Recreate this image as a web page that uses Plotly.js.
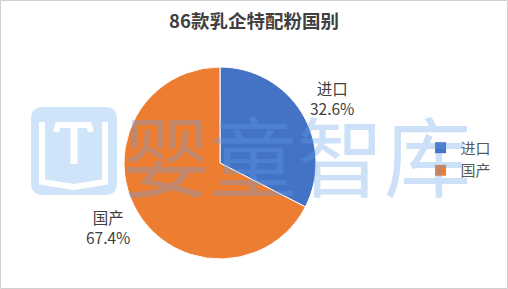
<!DOCTYPE html>
<html>
<head>
<meta charset="utf-8">
<script src="https://cdn.plot.ly/plotly-3.0.1.min.js"></script>
<style>html,body{margin:0;padding:0;background:#fff;}#chart{width:508px;height:289px;}</style>
</head>
<body>
<div id="chart"></div>
<script>
// Data
const chartTitle = '86款乳企特配粉国别';
const categories = ['进口', '国产'];
const counts = [28, 58];           // of 86 products
const sliceColors = ['#4472C4', '#ED7D31'];
const watermarkText = '婴童智库';

const W = 508, H = 289;
const FONT = '"Noto Sans CJK SC", "Microsoft YaHei", sans-serif';
const total = counts.reduce((a, b) => a + b, 0);
const pct = counts.map(v => (v / total * 100).toFixed(1) + '%');

function px(x) { return x / W; }
function py(y) { return 1 - y / H; }
function path(points) {
  return points.map((p, i) => (i ? 'L' : 'M') + px(p[0]).toFixed(5) + ',' + py(p[1]).toFixed(5)).join(' ');
}

const trace = {
  type: 'pie',
  labels: categories,
  values: counts,
  sort: false,
  direction: 'clockwise',
  rotation: 0,
  marker: { colors: sliceColors, line: { color: '#ffffff', width: 1 } },
  textinfo: 'none',
  hoverinfo: 'skip',
  domain: { x: [124 / W, 316 / W], y: [1 - 259 / H, 1 - 67 / H] }
};

// label positions (outside labels)
const labelPos = [[332, 98], [108, 227]];
const annotations = categories.map((c, i) => ({
  xref: 'paper', yref: 'paper',
  x: px(labelPos[i][0]), y: py(labelPos[i][1]),
  xanchor: 'center', yanchor: 'middle',
  text: c + '<br>' + pct[i],
  showarrow: false, align: 'center',
  font: { family: FONT, size: 15.5, color: '#404040' }
}));

// watermark text
annotations.push({
  xref: 'paper', yref: 'paper',
  x: px(297), y: py(153), xanchor: 'center', yanchor: 'middle',
  text: watermarkText, showarrow: false,
  font: { family: FONT, size: 87, color: 'rgba(96,160,232,0.32)' }
});

// watermark icon (rounded square + book)
const r = 12, x0 = 31, x1 = 117, y0 = 107, y1 = 195;
const rr = 'M' + px(x0 + r) + ',' + py(y0) +
  ' L' + px(x1 - r) + ',' + py(y0) +
  ' Q' + px(x1) + ',' + py(y0) + ' ' + px(x1) + ',' + py(y0 + r) +
  ' L' + px(x1) + ',' + py(y1 - r) +
  ' Q' + px(x1) + ',' + py(y1) + ' ' + px(x1 - r) + ',' + py(y1) +
  ' L' + px(x0 + r) + ',' + py(y1) +
  ' Q' + px(x0) + ',' + py(y1) + ' ' + px(x0) + ',' + py(y1 - r) +
  ' L' + px(x0) + ',' + py(y0 + r) +
  ' Q' + px(x0) + ',' + py(y0) + ' ' + px(x0 + r) + ',' + py(y0) + ' Z';

const shapes = [
  { type: 'path', xref: 'paper', yref: 'paper', path: rr, fillcolor: '#CFE4F9', line: { width: 0 }, layer: 'below' },
  { type: 'path', xref: 'paper', yref: 'paper', path: path([[42, 122], [42, 182], [74, 187], [105, 182], [105, 122]]), line: { color: '#ffffff', width: 6 }, layer: 'below' },
  { type: 'path', xref: 'paper', yref: 'paper', path: path([[56, 132], [58, 125], [89, 125], [91, 132]]), line: { color: '#ffffff', width: 6 }, layer: 'below' },
  { type: 'path', xref: 'paper', yref: 'paper', path: path([[74, 125], [74, 164]]), line: { color: '#ffffff', width: 7 }, layer: 'below' },
  // outer border
  { type: 'rect', xref: 'paper', yref: 'paper', x0: 0.5 / W, x1: 1 - 0.5 / W, y0: 0.5 / H, y1: 1 - 0.5 / H, line: { color: '#D0D0D0', width: 1 } }
];

const layout = {
  width: W, height: H,
  margin: { l: 0, r: 0, t: 0, b: 0 },
  paper_bgcolor: '#ffffff',
  title: {
    text: '<b>' + chartTitle + '</b>',
    x: 0.5, xanchor: 'center', y: 1 - 22 / H, yanchor: 'middle',
    font: { family: FONT, size: 18.5, color: '#404040' }
  },
  showlegend: true,
  legend: {
    x: 0.828, xanchor: 'left', y: 1 - 159 / H, yanchor: 'middle',
    font: { family: FONT, size: 15, color: '#595959' },
    bgcolor: 'rgba(0,0,0,0)', itemclick: false
  },
  annotations: annotations,
  shapes: shapes
};

Plotly.newPlot('chart', [trace], layout, { staticPlot: true, displayModeBar: false });
</script>
</body>
</html>
